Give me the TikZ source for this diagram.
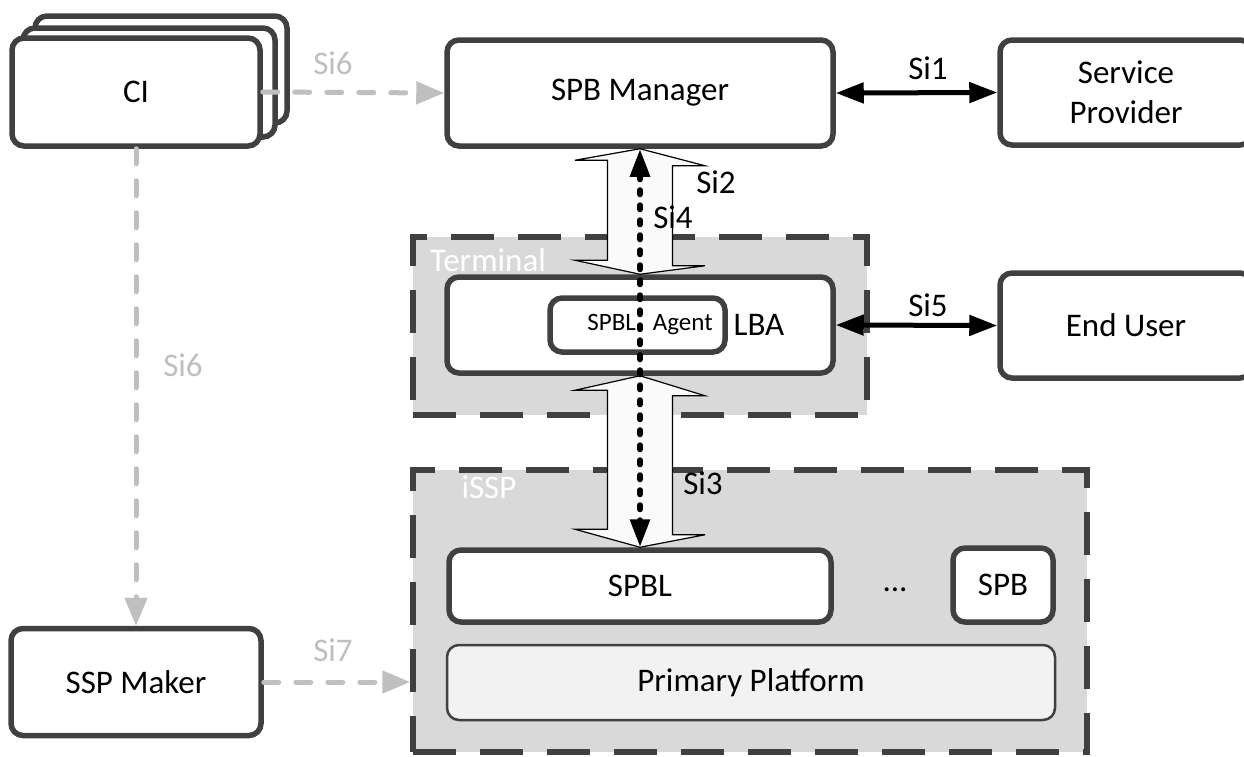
\documentclass[tikz,border=0pt]{standalone}
\usepackage{fontspec}
\setmainfont{Carlito}
\usetikzlibrary{arrows.meta}
\definecolor{linegray}{HTML}{404040}
\definecolor{fillgray}{HTML}{D9D9D9}
\definecolor{conngray}{HTML}{BFBFBF}
\definecolor{ppgray}{HTML}{F2F2F2}
\begin{document}
\begin{tikzpicture}[x=1pt,y=-1pt,
  every node/.style={font=\fontsize{33}{40}\selectfont},
  box/.style={draw=linegray,line width=5.5pt,rounded corners=12pt,fill=white,inner sep=0pt},
  group/.style={draw=linegray,line width=5.5pt,dash pattern=on 43pt off 24pt,fill=fillgray,inner sep=0pt},
  grouplabel/.style={text=white},
  fatarrow/.style={draw=black,line width=1.2pt,fill=gray!4,line join=miter},
  link/.style={draw=black,line width=5pt,{Triangle[length=28pt,width=20pt]}-{Triangle[length=28pt,width=20pt]}},
  softlink/.style={draw=conngray,line width=5pt,line cap=round,dash pattern=on 15pt off 17pt,-{Triangle[length=28pt,width=22pt]}},
  dotlink/.style={draw=black,line width=6pt,line cap=round,dash pattern=on 4pt off 11pt,{Triangle[length=28pt,width=19pt]}-{Triangle[length=28pt,width=19pt]}},
  softlabel/.style={text=conngray}]
\useasboundingbox(0,0)rectangle(1244,756);
%
\node[group,minimum width=454pt,minimum height=178pt](terminal)at(640,326){};
\node[grouplabel](terminallbl)at(488,260){Terminal};
\node[group,minimum width=674pt,minimum height=282pt](issp)at(750,611){};
\node[grouplabel](issplbl)at(489,487){iSSP};
%
\node[box,minimum width=252pt,minimum height=107pt](ciback)at(161,69.5){};
\node[box,minimum width=252pt,minimum height=109pt](cimid)at(149,82.5){};
\node[box,minimum width=248pt,minimum height=108pt](ci)at(136,92){CI};
\node[box,minimum width=386pt,minimum height=106pt](spbm)at(640,93){SPB Manager};
\node[box,minimum width=252pt,minimum height=105pt,align=center](sprov)at(1126,92.5){Service\\Provider};
\node[box,minimum width=386pt,minimum height=96pt](lba)at(640,325){};
\node[box,minimum width=175pt,minimum height=54pt](agent)at(637.5,325){};
\node[font=\fontsize{25}{30}\selectfont](agenttext)at(650,325){SPBL\hspace{17pt}Agent};
\node(lbatext)at(759,325){LBA};
\node[box,minimum width=252pt,minimum height=105pt](enduser)at(1126,325.5){End User};
\node[box,minimum width=382pt,minimum height=72pt](spbl)at(640,586){SPBL};
\node(dots)at(895,590){...};
\node[box,minimum width=100pt,minimum height=74pt](spb)at(1003,585){SPB};
\node[box,line width=2.5pt,fill=ppgray,minimum width=608pt,minimum height=75pt](pp)at(751,682.5){Primary Platform};
\node[box,minimum width=250pt,minimum height=107pt](sspm)at(136,682){SSP Maker};
%
\draw[fatarrow](spbm.south)--++(65,17)--++(-32.5,0)--++(0,100)--++(32.5,0)--(lba.north)--++(-65,-14)--++(32.5,0)--++(0,-100)--++(-32.5,0)--cycle;
\draw[fatarrow](lba.south)--++(65,20)--++(-32.5,0)--++(0,139)--++(32.5,0)--(spbl.north)--++(-65,-18)--++(32.5,0)--++(0,-139)--++(-32.5,0)--cycle;
\draw[dotlink](spbm.south)--(spbl.north);
%
\draw[link](spbm.east)--(sprov.west);
\draw[link](lba.east)--(enduser.west);
\draw[softlink](ci.east)--(spbm.west);
\draw[softlink](ci.south)--(sspm.north);
\draw[softlink](sspm.east)--(sspm.east-|issp.west);
%
\node(si1)at(928,68){Si1};
\node(si5)at(928,305){Si5};
\node(si2)at(716,182){Si2};
\node(si4)at(673,217){Si4};
\node(si3)at(703,483){Si3};
\node[softlabel](si6a)at(333,63){Si6};
\node[softlabel](si6b)at(183,365){Si6};
\node[softlabel](si7)at(333,650){Si7};
\end{tikzpicture}
\end{document}
